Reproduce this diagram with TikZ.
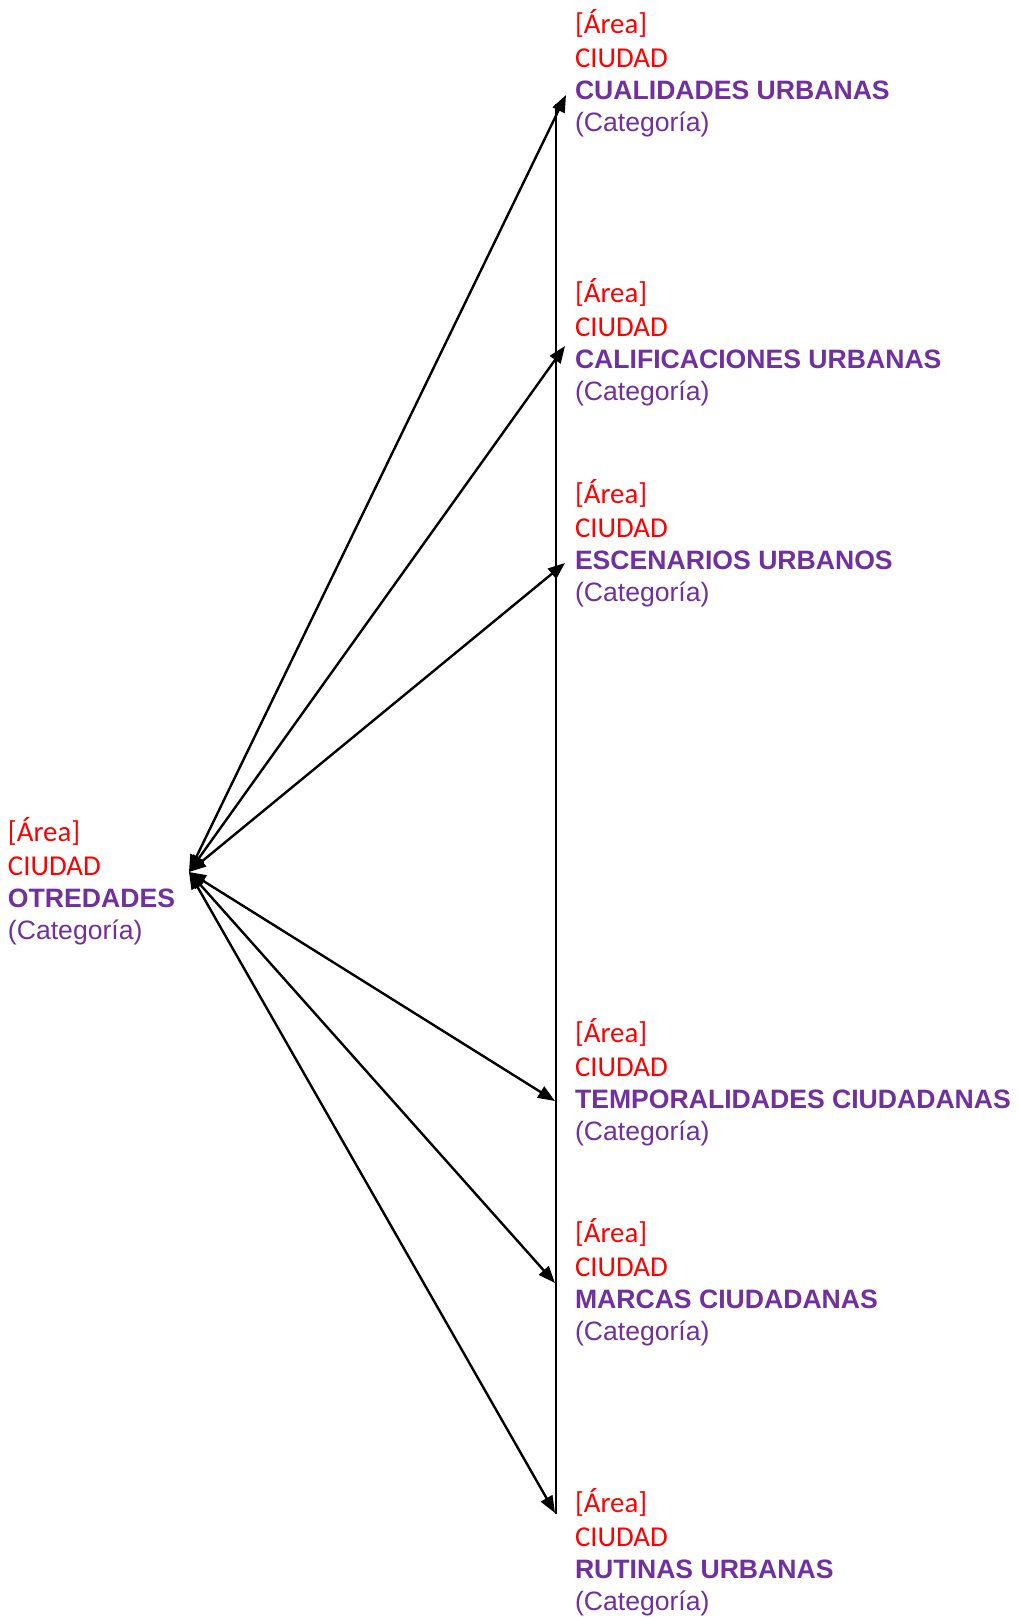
\documentclass[tikz,border=0pt]{standalone}
\usepackage{fontspec}
\setmainfont{Liberation Sans}
\newfontfamily\redfont{Carlito}
\usetikzlibrary{arrows.meta}
\definecolor{areared}{HTML}{FF0000}
\definecolor{catpurple}{HTML}{7030A0}
\newcommand\catblock[4]{%
  \node[arealbl] (#1a) at (#2,#3) {[Área]};
  \node[arealbl] (#1c) at (#2,#3+34) {CIUDAD};
  \node[titlelbl] (#1t) at (#2,#3+66) {#4};
  \node[catlbl] (#1k) at (#2,#3+98) {(Categoría)};}
\begin{document}
\begin{tikzpicture}[x=1pt,y=-1pt,
  lbl/.style={anchor=base west, inner sep=0pt, outer sep=0pt},
  arealbl/.style={lbl, text=areared, font=\redfont\fontsize{28.8}{34}\selectfont},
  titlelbl/.style={lbl, text=catpurple, font=\bfseries\fontsize{26.6}{32}\selectfont},
  catlbl/.style={lbl, text=catpurple, font=\fontsize{26.6}{32}\selectfont},
  link/.style={line width=2.4pt, {Triangle[length=17pt,width=13pt]}-{Triangle[length=17pt,width=13pt]}},
  spine/.style={line width=2.4pt}]
\useasboundingbox (0,0) rectangle (1018,1617);
\fill[white] (0,0) rectangle (1018,1617);
% text blocks
\catblock{L}{8}{841}{OTREDADES}
\catblock{A}{575}{33}{CUALIDADES URBANAS}
\catblock{B}{575}{302}{CALIFICACIONES URBANAS}
\catblock{C}{575}{503}{ESCENARIOS URBANOS}
\catblock{D}{575}{1042}{TEMPORALIDADES CIUDADANAS}
\catblock{E}{575}{1242}{MARCAS CIUDADANAS}
\catblock{F}{575}{1512}{RUTINAS URBANAS}
% connector end points
\coordinate (hub) at (189,872);
\coordinate (tA) at (566,95);
\coordinate (tB) at (565,346);
\coordinate (tC) at (565,563);
\coordinate (tD) at (555,1101);
\coordinate (tE) at (555,1283);
\coordinate (tF) at (555,1513);
\coordinate (vtop) at (556,104);
\coordinate (vbot) at (556,1514);
% vertical line
\draw[spine] (vtop) -- (vbot);
% connectors
\foreach \t in {tA,tB,tC,tD,tE,tF}
  \draw[link] (hub) -- (\t);
\end{tikzpicture}
\end{document}
